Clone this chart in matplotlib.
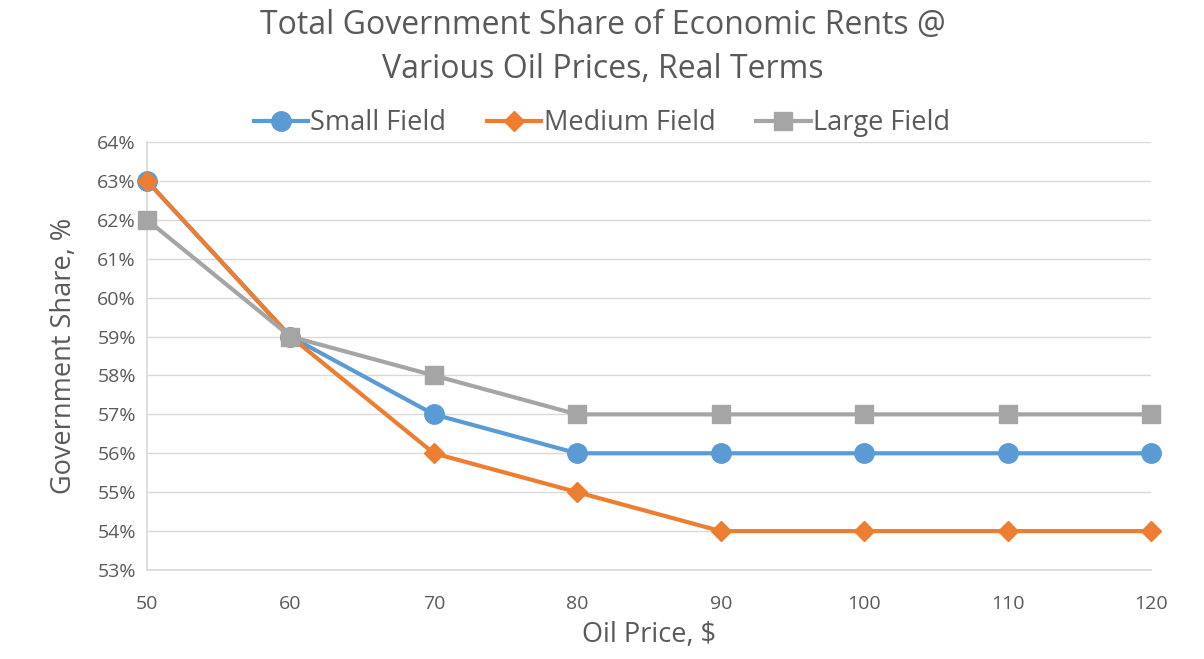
import matplotlib
matplotlib.use("Agg")
from matplotlib import pyplot as plt
from matplotlib.ticker import FuncFormatter

precios = [50, 60, 70, 80, 90, 100, 110, 120]
small_field = [63, 59, 57, 56, 56, 56, 56, 56]
medium_field = [63, 59, 56, 55, 54, 54, 54, 54]
large_field = [62, 59, 58, 57, 57, 57, 57, 57]

plt.rcParams['font.family'] = ['Open Sans', 'DejaVu Sans']

fig = plt.figure(figsize=(12.04, 6.59), dpi=100)
ax = fig.add_axes([0.1221, 0.135, 0.956 - 0.1221, 0.7845 - 0.135])

ax.plot(precios, small_field, color='#5B9BD5', lw=3, marker='o', markersize=14,
        label='Small Field', zorder=3, clip_on=False)
ax.plot(precios, medium_field, color='#ED7D31', lw=3, marker='D', markersize=10,
        label='Medium Field', zorder=4, clip_on=False)
ax.plot(precios, large_field, color='#A5A5A5', lw=3, marker='s', markersize=13,
        label='Large Field', zorder=5, clip_on=False)

ax.set_xlim(50, 120)
ax.set_ylim(53, 64)
ax.set_xticks(precios)
ax.set_yticks(range(53, 65))
ax.yaxis.set_major_formatter(FuncFormatter(lambda v, p: f'{int(v)}%'))
ax.tick_params(length=0, labelsize=14, colors='#595959', pad=8)
ax.tick_params(axis='x', pad=18)
ax.grid(axis='y', color='#D9D9D9', lw=1)
ax.set_axisbelow(True)
for lado in ['top', 'right']:
    ax.spines[lado].set_visible(False)
for lado in ['left', 'bottom']:
    ax.spines[lado].set_color('#D9D9D9')
    ax.spines[lado].set_linewidth(1.2)

ax.set_xlabel('Oil Price, $', fontsize=19.5, color='#595959', labelpad=6)
ax.set_ylabel('Government Share, %', fontsize=19.5, color='#595959', labelpad=14)

fig.text(0.501, 0.928, 'Total Government Share of Economic Rents @\nVarious Oil Prices, Real Terms',
         ha='center', va='center', fontsize=23, color='#595959', linespacing=1.45)

leg = fig.legend(loc='center', bbox_to_anchor=(0.5, 0.813), ncol=3, frameon=False,
                 fontsize=19.5, handlelength=2.0, columnspacing=1.5, handletextpad=0.1,
                 labelcolor='#595959')

fig.savefig('out.png', dpi=100)
